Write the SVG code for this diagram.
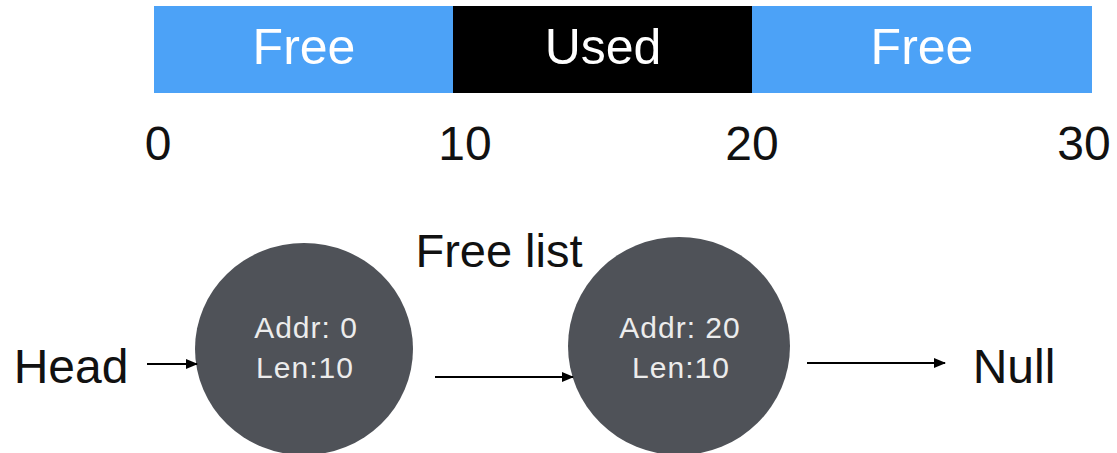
<svg xmlns="http://www.w3.org/2000/svg" width="1117" height="453" viewBox="0 0 1117 453">
  <style>
    .lbl { font-family: "Liberation Sans", Arial, sans-serif; fill: #111; }
    .seg { font-family: "Liberation Sans", Arial, sans-serif; fill: #fff; font-size: 50px; text-anchor: middle; }
    .node { fill: #4f5258; }
    .ntxt { font-family: "Liberation Sans", Arial, sans-serif; fill: #ececec; font-size: 30px; text-anchor: middle; letter-spacing: 1px; }
    .edge { stroke: #000; stroke-width: 2; fill: none; marker-end: url(#arrow); }
  </style>
  <defs>
    <marker id="arrow" viewBox="0 0 12 10" refX="11" refY="5" markerWidth="12" markerHeight="10" markerUnits="userSpaceOnUse" orient="auto">
      <path d="M0,0 L12,5 L0,10 Z" fill="#000"/>
    </marker>
  </defs>
  <rect width="1117" height="453" fill="#fff"/>

  <!-- memory bar -->
  <g id="bar">
    <rect x="154" y="6" width="300" height="87" fill="#4ca2f7"/>
    <rect x="453" y="6" width="300" height="87" fill="#000"/>
    <rect x="752" y="6" width="340" height="87" fill="#4ca2f7"/>
    <text class="seg" x="304" y="64">Free</text>
    <text class="seg" x="603" y="64">Used</text>
    <text class="seg" x="922" y="64">Free</text>
  </g>

  <!-- address scale -->
  <g id="scale" class="lbl" font-size="48">
    <text x="158" y="160" text-anchor="middle">0</text>
    <text x="465" y="160" text-anchor="middle">10</text>
    <text x="752" y="160" text-anchor="middle">20</text>
    <text x="1084" y="160" text-anchor="middle">30</text>
  </g>

  <text id="title" class="lbl" x="499" y="267" font-size="47" text-anchor="middle">Free list</text>

  <g id="head">
    <text class="lbl" x="71" y="383" font-size="48" text-anchor="middle">Head</text>
  </g>

  <g id="node1">
    <ellipse class="node" cx="304" cy="349" rx="109" ry="106"/>
    <text class="ntxt" x="306" y="338">Addr: 0</text>
    <text class="ntxt" x="305" y="378">Len:10</text>
  </g>

  <g id="node2">
    <ellipse class="node" cx="679" cy="346" rx="111" ry="109"/>
    <text class="ntxt" x="680" y="338">Addr: 20</text>
    <text class="ntxt" x="681" y="378">Len:10</text>
  </g>

  <g id="null">
    <text class="lbl" x="1014" y="383" font-size="48" text-anchor="middle">Null</text>
  </g>

  <!-- list links -->
  <g id="connectors">
    <line class="edge" x1="147" y1="364" x2="197" y2="364"/>
    <line class="edge" x1="435" y1="377" x2="573" y2="377"/>
    <line class="edge" x1="807" y1="363" x2="945" y2="363"/>
  </g>
</svg>
